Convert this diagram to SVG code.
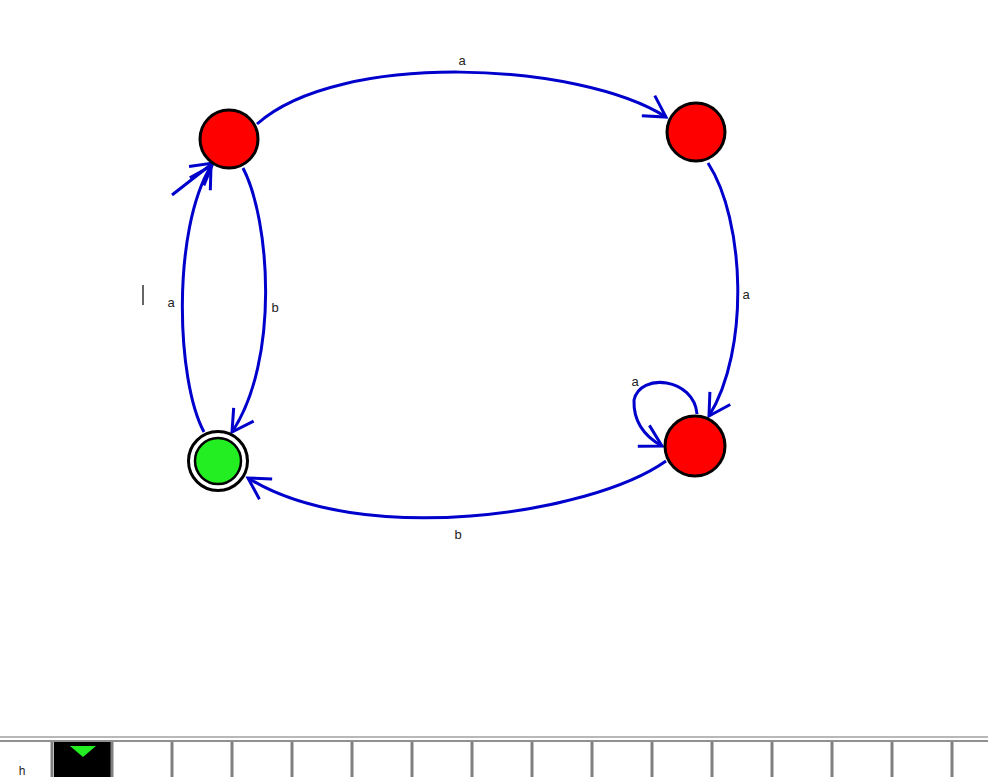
<svg xmlns="http://www.w3.org/2000/svg" width="988" height="777" viewBox="0 0 988 777">
<style>
.edge{fill:none;stroke:#0000cc;stroke-width:3;marker-end:url(#arr)}
.state{fill:#ff0000;stroke:#000;stroke-width:3}
.lbl{font-family:"Liberation Sans",Arial,sans-serif;font-size:13px;fill:#222;text-anchor:middle}
.cell{stroke:#808080;stroke-width:3}
</style>
<defs>
<marker id="arr" markerUnits="userSpaceOnUse" markerWidth="30" markerHeight="30" viewBox="-24 -15 28 30" refX="0" refY="0" orient="auto">
<path d="M-21,-12 L0,0 L-21,12" fill="none" stroke="#0000cc" stroke-width="3"/>
</marker>
</defs>
<rect width="988" height="777" fill="#fff"/>
<g id="connectors">
<path class="edge" d="M257,124 C340,50 580,62 666,117"/>
<path class="edge" d="M708,163 C745,220 750,350 709,416"/>
<path class="edge" d="M697,414 C694,378 640,372 634,400 Q633,430 662,446"/>
<path class="edge" d="M666,461 C590,515 360,548 248,478"/>
<path class="edge" d="M243,168 C270,220 280,360 232,432"/>
<path class="edge" d="M204,432 C176,380 172,230 211,166"/>
<path class="edge" d="M172,195 L213,163"/>
</g>
<g id="labels">
<text class="lbl" x="462" y="65">a</text>
<text class="lbl" x="746" y="299">a</text>
<text class="lbl" x="635" y="386">a</text>
<text class="lbl" x="458" y="539">b</text>
<text class="lbl" x="275" y="312">b</text>
<text class="lbl" x="171" y="307">a</text>
</g>
<line x1="143" y1="285" x2="143" y2="305" stroke="#333" stroke-width="1.5"/>
<g id="q0"><circle class="state" cx="229" cy="139" r="29"/></g>
<g id="q1"><circle class="state" cx="696" cy="132" r="29"/></g>
<g id="q2"><circle class="state" cx="695" cy="446" r="30"/></g>
<g id="q3">
<circle cx="218" cy="461" r="29.5" fill="#fff" stroke="#000" stroke-width="3"/>
<circle cx="218" cy="461" r="23" fill="#22ee22" stroke="#000" stroke-width="2.5"/>
</g>
<g id="strip">
<line x1="0" y1="737" x2="988" y2="737" stroke="#b8b8b8" stroke-width="2"/>
<line x1="0" y1="741" x2="988" y2="741" stroke="#909090" stroke-width="2"/>
<rect x="54" y="742" width="57" height="35" fill="#000"/>
<polygon points="70,746 96,746 83,757" fill="#22ee22"/>
<g class="cell">
<line x1="52" y1="742" x2="52" y2="777"/><line x1="112" y1="742" x2="112" y2="777"/>
<line x1="172" y1="742" x2="172" y2="777"/><line x1="232" y1="742" x2="232" y2="777"/>
<line x1="292" y1="742" x2="292" y2="777"/><line x1="352" y1="742" x2="352" y2="777"/>
<line x1="412" y1="742" x2="412" y2="777"/><line x1="472" y1="742" x2="472" y2="777"/>
<line x1="532" y1="742" x2="532" y2="777"/><line x1="592" y1="742" x2="592" y2="777"/>
<line x1="652" y1="742" x2="652" y2="777"/><line x1="712" y1="742" x2="712" y2="777"/>
<line x1="772" y1="742" x2="772" y2="777"/><line x1="832" y1="742" x2="832" y2="777"/>
<line x1="892" y1="742" x2="892" y2="777"/><line x1="952" y1="742" x2="952" y2="777"/>
</g>
<text x="22" y="775" font-family="Liberation Sans, Arial, sans-serif" font-size="12" fill="#222" text-anchor="middle">h</text>
</g>
</svg>
